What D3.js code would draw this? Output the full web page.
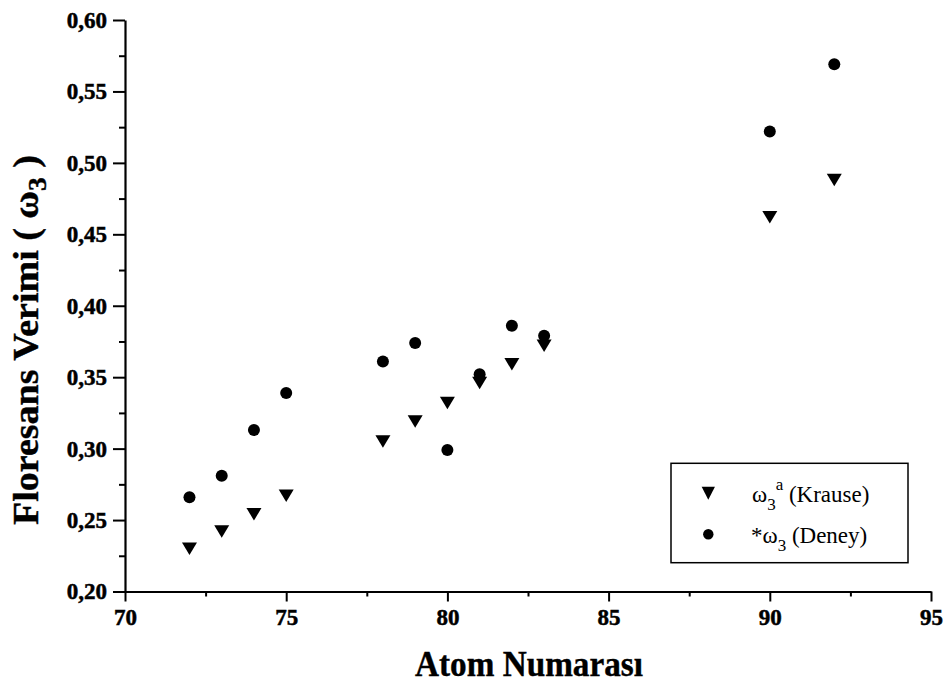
<!DOCTYPE html>
<html>
<head>
<meta charset="utf-8">
<script src="https://cdn.jsdelivr.net/npm/d3@7"></script>
<style>
  html, body { margin: 0; padding: 0; background: #fff; }
  svg { display: block; }
</style>
</head>
<body>
<svg id="chart" width="949" height="686"></svg>
<script>
// Atomic numbers of the measured elements
const atomNumbers = [72, 73, 74, 75, 78, 79, 80, 81, 82, 83, 90, 92];
// L3 fluorescence yield, Krause reference values
const krauseValues = [0.230, 0.242, 0.254, 0.267, 0.305, 0.319, 0.332, 0.346, 0.359, 0.372, 0.462, 0.488];
// L3 fluorescence yield, experimental values
const deneyValues = [0.266, 0.281, 0.313, 0.339, 0.361, 0.374, 0.299, 0.352, 0.386, 0.379, 0.522, 0.569];
// Axis ticks
const xTicks = [70, 75, 80, 85, 90, 95];
const xMinorTicks = [72.5, 77.5, 82.5, 87.5, 92.5];
const yTicks = [0.20, 0.25, 0.30, 0.35, 0.40, 0.45, 0.50, 0.55, 0.60];
const yMinorTicks = [0.225, 0.275, 0.325, 0.375, 0.425, 0.475, 0.525, 0.575];

const SERIF = "'Liberation Serif', 'Times New Roman', Times, serif";

const svg = d3.select("#chart")
  .style("font-family", SERIF);

const x = d3.scaleLinear().domain([70, 95]).range([125, 931]);
const y = d3.scaleLinear().domain([0.20, 0.60]).range([591.5, 20]);

const fmt = d3.formatLocale({ decimal: ",", thousands: ".", grouping: [3], currency: ["", ""] }).format(".2f");

// Minor ticks
svg.append("g")
  .attr("transform", `translate(0,${y(0.20)})`)
  .call(d3.axisBottom(x).tickValues(xMinorTicks).tickSize(5).tickFormat(""))
  .call(g => g.select(".domain").remove())
  .call(g => g.selectAll("line").attr("stroke", "#000").attr("stroke-width", 2));

svg.append("g")
  .attr("transform", `translate(${x(70)},0)`)
  .call(d3.axisLeft(y).tickValues(yMinorTicks).tickSize(6).tickFormat(""))
  .call(g => g.select(".domain").remove())
  .call(g => g.selectAll("line").attr("stroke", "#000").attr("stroke-width", 2));

// Major axes
function styleAxis(g) {
  g.attr("font-family", null).attr("font-size", null)
    .style("font-family", SERIF).style("font-size", "23px").style("font-weight", "bold");
  g.select(".domain").attr("stroke", "#000").attr("stroke-width", 2.2);
  g.selectAll("line").attr("stroke", "#000").attr("stroke-width", 2);
  g.selectAll("text").attr("fill", "#000")
    .attr("stroke", "#000").attr("stroke-width", 0.5);
}

svg.append("g")
  .attr("transform", `translate(0,${y(0.20)})`)
  .call(d3.axisBottom(x).tickValues(xTicks).tickSize(10).tickSizeOuter(0).tickPadding(7).tickFormat(d3.format("d")))
  .call(styleAxis);

svg.append("g")
  .attr("transform", `translate(${x(70)},0)`)
  .call(d3.axisLeft(y).tickValues(yTicks).tickSize(12).tickSizeOuter(0).tickPadding(6).tickFormat(fmt))
  .call(styleAxis);

// Marker shapes
const downTriangle = (w, h) => `M${-w / 2},${-h / 2}L${w / 2},${-h / 2}L0,${h / 2}Z`;

const krauseData = atomNumbers.map((z, i) => ({ z, v: krauseValues[i] }));
const deneyData = atomNumbers.map((z, i) => ({ z, v: deneyValues[i] }));

svg.append("g").selectAll("path")
  .data(krauseData).join("path")
  .attr("d", downTriangle(15, 12.5))
  .attr("transform", d => `translate(${x(d.z)},${y(d.v)})`)
  .attr("fill", "#000");

svg.append("g").selectAll("circle")
  .data(deneyData).join("circle")
  .attr("cx", d => x(d.z))
  .attr("cy", d => y(d.v))
  .attr("r", 6)
  .attr("fill", "#000");

// Axis titles
svg.append("text")
  .attr("x", 529).attr("y", 676)
  .attr("text-anchor", "middle")
  .style("font-family", SERIF).style("font-size", "36px").style("font-weight", "bold")
  .attr("stroke", "#000").attr("stroke-width", 0.4)
  .attr("textLength", 228).attr("lengthAdjust", "spacingAndGlyphs")
  .text("Atom Numarası");

const yTitle = svg.append("text")
  .attr("transform", "translate(38,340) rotate(-90)")
  .attr("text-anchor", "middle")
  .style("font-family", SERIF).style("font-size", "36px").style("font-weight", "bold")
  .attr("stroke", "#000").attr("stroke-width", 0.4)
  .attr("textLength", 370).attr("lengthAdjust", "spacingAndGlyphs");
yTitle.append("tspan").text("Floresans Verimi (  ω");
yTitle.append("tspan").style("font-size", "26px").attr("dy", 8).text("3");
yTitle.append("tspan").attr("dy", -8).text("  )");

// Legend
const legend = svg.append("g")
  .style("font-family", SERIF).style("font-size", "23px").style("font-weight", "normal");
legend.append("rect")
  .attr("x", 671).attr("y", 463.3)
  .attr("width", 237).attr("height", 99.4)
  .attr("fill", "none").attr("stroke", "#000").attr("stroke-width", 1.5);

legend.append("path")
  .attr("d", downTriangle(13.3, 13))
  .attr("transform", "translate(708.3,493.3)")
  .attr("fill", "#000");
legend.append("circle")
  .attr("cx", 708.3).attr("cy", 534.3).attr("r", 5.2)
  .attr("fill", "#000");

const l1 = legend.append("text").attr("x", 752).attr("y", 502);
l1.append("tspan").text("ω");
l1.append("tspan").style("font-size", "17px").attr("dy", 8).text("3");
l1.append("tspan").style("font-size", "17px").attr("dy", -20).text("a");
l1.append("tspan").attr("dy", 12).text(" (Krause)");

const l2 = legend.append("text").attr("x", 751).attr("y", 543);
l2.append("tspan").text("*ω");
l2.append("tspan").style("font-size", "17px").attr("dy", 8).text("3");
l2.append("tspan").attr("dy", -8).text(" (Deney)");
</script>
</body>
</html>
